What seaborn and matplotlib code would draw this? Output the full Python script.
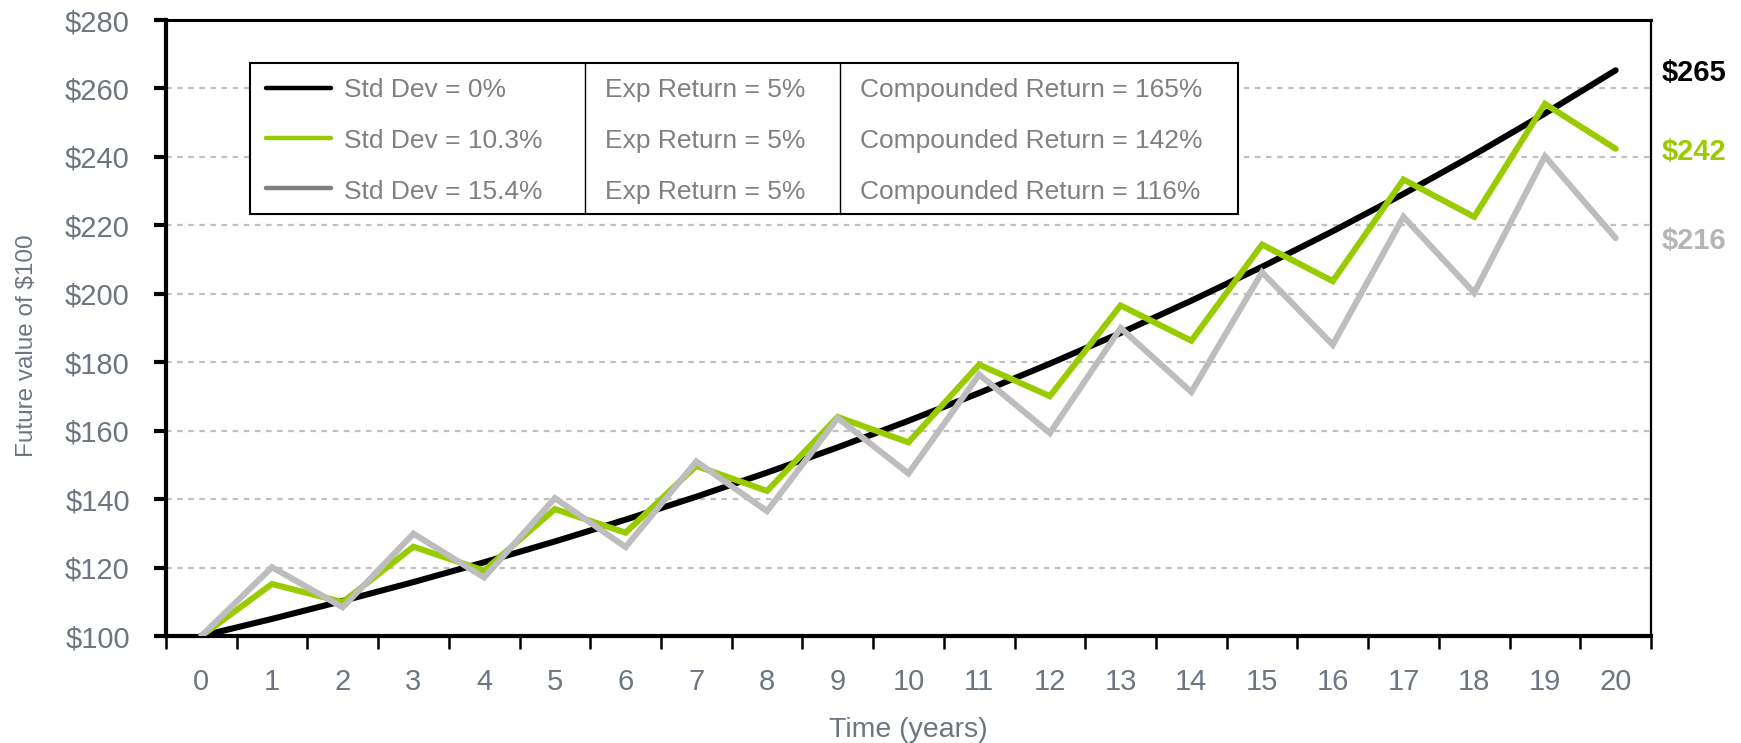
import matplotlib
matplotlib.use("Agg")
import matplotlib.pyplot as plt
import seaborn as sns
import pandas as pd
from matplotlib.lines import Line2D
from matplotlib.patches import Rectangle

# ---- data ----
years = list(range(0, 21))
std0 = [100, 105.0, 110.25, 115.76, 121.55, 127.63, 134.01, 140.71, 147.75, 155.13,
        162.89, 171.03, 179.59, 188.56, 197.99, 207.89, 218.29, 229.20, 240.66, 252.70, 265.33]
std103 = [100, 115.2, 109.9, 126.1, 119.1, 137.1, 130.2, 149.7, 142.4, 164.0,
          156.6, 179.3, 170.1, 196.6, 186.3, 214.4, 203.7, 233.4, 222.5, 255.5, 242.4]
std154 = [100, 120.1, 108.4, 129.9, 117.1, 140.3, 126.0, 151.0, 136.5, 163.7,
          147.5, 176.4, 159.3, 190.0, 171.3, 206.3, 185.1, 222.5, 200.3, 240.2, 216.3]
series_names = ["Std Dev = 0%", "Std Dev = 10.3%", "Std Dev = 15.4%"]
exp_returns = ["Exp Return = 5%", "Exp Return = 5%", "Exp Return = 5%"]
comp_returns = ["Compounded Return = 165%", "Compounded Return = 142%", "Compounded Return = 116%"]
end_labels = ["$265", "$242", "$216"]
y_ticks = [100, 120, 140, 160, 180, 200, 220, 240, 260, 280]

line_colors = ["#000000", "#99CC00", "#BDBDBD"]
legend_colors = ["#000000", "#99CC00", "#808080"]
label_colors = ["#000000", "#99CC00", "#B5B5B5"]

sns.set_theme(style="white")
plt.rcParams['font.family'] = ['Liberation Sans', 'DejaVu Sans']

df = pd.DataFrame({
    "year": years * 3,
    "value": std0 + std103 + std154,
    "series": sum([[n] * len(years) for n in series_names], []),
})

fig = plt.figure(figsize=(17.41, 7.43), dpi=100)
ax = fig.add_axes([0.0953, 0.144, 0.853, 0.829])

tick_color = "#6d7680"

# grid
for v in y_ticks[1:-1]:
    ax.axhline(v, color="#c0c0c0", lw=1.6, ls=(0, (2.5, 2.5)), zorder=0)

sns.lineplot(data=df, x="year", y="value", hue="series", hue_order=series_names,
             palette=dict(zip(series_names, line_colors)), lw=4.4, legend=False, ax=ax,
             zorder=3)
# Excel-style drawing order: later series on top
for line, z in zip(ax.get_lines()[-3:], [3, 4, 5]):
    line.set_zorder(z)
    line.set_solid_joinstyle("miter")
    line.set_solid_capstyle("round")

ax.set_xlim(-0.5, 20.5)
ax.set_ylim(100, 280)
ax.set_yticks(y_ticks)
ax.set_yticklabels([f"${v}" for v in y_ticks])
ax.set_xticks(years)
ax.set_xticklabels([str(y) for y in years])
ax.set_xticks([y - 0.5 for y in years] + [20.5], minor=True)
ax.tick_params(axis="x", which="major", length=0, pad=23, labelsize=21, labelcolor=tick_color)
ax.tick_params(axis="x", which="minor", length=9, width=1.8, color="black", direction="out", bottom=True)
ax.tick_params(axis="y", which="major", length=9, width=3, color="black", direction="out", left=True,
               pad=17, labelsize=21, labelcolor=tick_color)

for side, lw in [("left", 3), ("bottom", 3), ("top", 2.2), ("right", 1.6)]:
    ax.spines[side].set_visible(True)
    ax.spines[side].set_color("black")
    ax.spines[side].set_linewidth(lw)

ax.set_xlabel("Time (years)", fontsize=20.5, color=tick_color, labelpad=15)
ax.set_ylabel("Future value of $100", fontsize=17.5, color=tick_color)
ax.yaxis.set_label_coords(-0.086, 0.472)

# table legend
tx0, tx1, c1, c2 = 0.0566, 0.7219, 0.2822, 0.4539
ty0, ty1 = 0.685, 0.9302
ax.add_patch(Rectangle((tx0, ty0), tx1 - tx0, ty1 - ty0, transform=ax.transAxes,
                       fill=True, facecolor="white", edgecolor="black", lw=1.5, zorder=6))
for cx in (c1, c2):
    ax.add_line(Line2D([cx, cx], [ty0, ty1], transform=ax.transAxes, color="black", lw=1.0, zorder=7))
row_base = [0.8745, 0.7917, 0.709]
line_y = [0.889, 0.809, 0.727]
txt_color = "#808080"
for i in range(3):
    ax.add_line(Line2D([0.0673, 0.1111], [line_y[i]] * 2, transform=ax.transAxes,
                       color=legend_colors[i], lw=3.2, zorder=7))
    for xpos, txt in [(0.1199, series_names[i]), (0.2956, exp_returns[i]), (0.4673, comp_returns[i])]:
        ax.text(xpos, row_base[i], txt, transform=ax.transAxes, fontsize=19,
                color=txt_color, va="baseline", ha="left", zorder=8)

# end labels
finals = [std0[-1], std103[-1], std154[-1]]
tr = matplotlib.transforms.blended_transform_factory(ax.transAxes, ax.transData)
for val, lab, col in zip(finals, end_labels, label_colors):
    ax.text(1.0075, val, lab, transform=tr, fontsize=21, fontweight="bold", color=col,
            va="center_baseline", ha="left")

fig.savefig("out.png", dpi=100)
